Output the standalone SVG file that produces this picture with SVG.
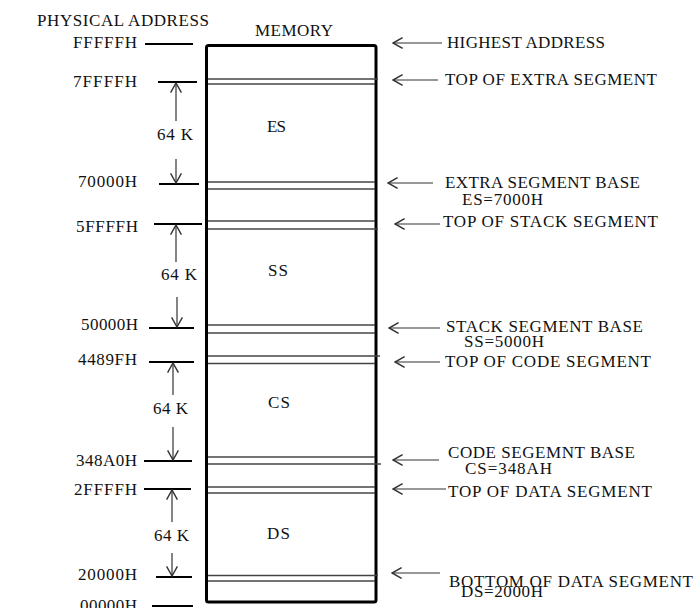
<svg xmlns="http://www.w3.org/2000/svg" width="694" height="608" viewBox="0 0 694 608">
<style>
text{font-family:"Liberation Serif","Times New Roman",serif;font-size:17px;fill:#111}
.tick{stroke:#000;stroke-width:2}
.seg{stroke:#444;stroke-width:1.5}
.arr{stroke:#333;stroke-width:1.2;fill:none}
</style>
<defs>
<marker id="head" markerUnits="userSpaceOnUse" markerWidth="12" markerHeight="12" viewBox="0 0 10 10" refX="9" refY="5" orient="auto">
<path d="M1,0.5 L9,5 L1,9.5" fill="none" stroke="#333" stroke-width="1.2"/>
</marker>
</defs>
<rect width="694" height="608" fill="#fff"/>

<g id="headers">
<text x="37" y="26" textLength="172">PHYSICAL ADDRESS</text>
<text x="255" y="36" textLength="78">MEMORY</text>
</g>

<g id="memory">
<rect x="206.5" y="45.5" width="169.5" height="556.5" rx="2" fill="none" stroke="#000" stroke-width="3"/>
<line class="seg" x1="208" y1="79" x2="378" y2="79"/>
<line class="seg" x1="208" y1="84" x2="375" y2="84"/>
<line class="seg" x1="208" y1="182" x2="375" y2="182"/>
<line class="seg" x1="208" y1="189" x2="375" y2="189"/>
<line class="seg" x1="208" y1="221" x2="375" y2="221"/>
<line class="seg" x1="208" y1="229" x2="378" y2="229"/>
<line class="seg" x1="208" y1="325" x2="375" y2="325"/>
<line class="seg" x1="208" y1="333" x2="375" y2="333"/>
<line class="seg" x1="208" y1="356" x2="380" y2="356"/>
<line class="seg" x1="208" y1="363.5" x2="375" y2="363.5"/>
<line class="seg" x1="208" y1="457" x2="375" y2="457"/>
<line class="seg" x1="208" y1="464" x2="381" y2="464"/>
<line class="seg" x1="208" y1="487" x2="375" y2="487"/>
<line class="seg" x1="208" y1="493" x2="375" y2="493"/>
<line class="seg" x1="208" y1="575.5" x2="378" y2="575.5"/>
<line class="seg" x1="208" y1="581" x2="375" y2="581"/>
<text x="267" y="132" textLength="19">ES</text>
<text x="268" y="276" textLength="20">SS</text>
<text x="268" y="408" textLength="22">CS</text>
<text x="267" y="539" textLength="23">DS</text>
</g>

<g id="addresses">
<line class="tick" x1="145" y1="44" x2="193" y2="44"/>
<text x="73" y="48" textLength="64">FFFFFH</text>
<line class="tick" x1="158" y1="82" x2="197" y2="82"/>
<text x="73" y="87" textLength="64">7FFFFH</text>
<line class="tick" x1="159" y1="184" x2="199" y2="184"/>
<text x="78" y="187" textLength="59">70000H</text>
<line class="tick" x1="154" y1="224" x2="202" y2="224"/>
<text x="76" y="232" textLength="62">5FFFFH</text>
<line class="tick" x1="149" y1="328" x2="194" y2="328"/>
<text x="81" y="330" textLength="57">50000H</text>
<line class="tick" x1="149" y1="362" x2="194" y2="362"/>
<text x="78" y="365" textLength="59">4489FH</text>
<line class="tick" x1="144" y1="461" x2="192" y2="461"/>
<text x="76" y="466" textLength="61">348A0H</text>
<line class="tick" x1="144" y1="489" x2="191" y2="489"/>
<text x="74" y="495" textLength="63">2FFFFH</text>
<line class="tick" x1="156" y1="577" x2="192" y2="577"/>
<text x="78" y="580" textLength="59">20000H</text>
<line class="tick" x1="152" y1="606" x2="193" y2="606"/>
<text x="80" y="611" textLength="57">00000H</text>
</g>

<g id="sizes">
<text x="157" y="140" textLength="36">64 K</text>
<text x="161" y="280" textLength="36">64 K</text>
<text x="153" y="414" textLength="35">64 K</text>
<text x="154" y="541" textLength="35">64 K</text>
</g>

<g id="connectors">
<line class="arr" x1="176" y1="121" x2="176" y2="83" marker-end="url(#head)"/>
<line class="arr" x1="176" y1="159" x2="176" y2="183" marker-end="url(#head)"/>
<line class="arr" x1="176" y1="262" x2="176" y2="225" marker-end="url(#head)"/>
<line class="arr" x1="177" y1="297" x2="177" y2="327" marker-end="url(#head)"/>
<line class="arr" x1="173" y1="395" x2="173" y2="363" marker-end="url(#head)"/>
<line class="arr" x1="173" y1="427" x2="173" y2="460" marker-end="url(#head)"/>
<line class="arr" x1="172" y1="522" x2="172" y2="490" marker-end="url(#head)"/>
<line class="arr" x1="172" y1="553" x2="172" y2="576" marker-end="url(#head)"/>

<line class="arr" x1="442" y1="43" x2="393" y2="43" marker-end="url(#head)"/>
<line class="arr" x1="438" y1="80" x2="393" y2="80" marker-end="url(#head)"/>
<line class="arr" x1="433" y1="183" x2="388" y2="183" marker-end="url(#head)"/>
<line class="arr" x1="440" y1="224" x2="395" y2="224" marker-end="url(#head)"/>
<line class="arr" x1="440" y1="328" x2="389" y2="328" marker-end="url(#head)"/>
<line class="arr" x1="440" y1="362" x2="395" y2="362" marker-end="url(#head)"/>
<line class="arr" x1="439" y1="460" x2="393" y2="460" marker-end="url(#head)"/>
<line class="arr" x1="446" y1="489" x2="393" y2="489" marker-end="url(#head)"/>
<line class="arr" x1="440" y1="573" x2="392" y2="573" marker-end="url(#head)"/>
</g>

<g id="labels">
<text x="447" y="48" textLength="158">HIGHEST ADDRESS</text>
<text x="445" y="85" textLength="212">TOP OF EXTRA SEGMENT</text>
<text x="445" y="188" textLength="195">EXTRA SEGMENT BASE</text>
<text x="462" y="205" textLength="81">ES=7000H</text>
<text x="443" y="227" textLength="215">TOP OF STACK SEGMENT</text>
<text x="446" y="332" textLength="197">STACK SEGMENT BASE</text>
<text x="464" y="347" textLength="80">SS=5000H</text>
<text x="445" y="367" textLength="206">TOP OF CODE SEGMENT</text>
<text x="448" y="458" textLength="187">CODE SEGEMNT BASE</text>
<text x="465" y="474" textLength="87">CS=348AH</text>
<text x="448" y="497" textLength="204">TOP OF DATA SEGMENT</text>
<text x="449" y="587" textLength="244">BOTTOM OF DATA SEGMENT</text>
<text x="461" y="597" textLength="82">DS=2000H</text>
</g>
</svg>
